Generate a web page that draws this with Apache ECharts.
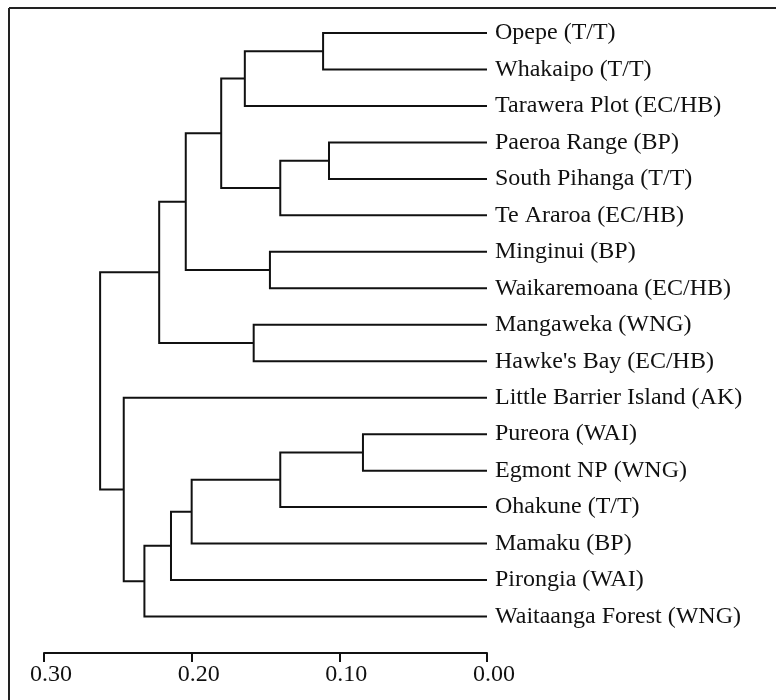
<!DOCTYPE html>
<html>
<head>
    <meta charset="UTF-8"/>
    <title>dendrogram</title>
    <script type="text/javascript" src="https://cdn.jsdelivr.net/npm/echarts@6/dist/echarts.min.js"></script>
    <style>
        html, body { margin: 0; padding: 0; background: #fff; }
        #chart { width: 776px; height: 700px; }
    </style>
</head>
<body>
<div id="chart"></div>
<script>
    // leaf order, top to bottom
    var leaves = [
        'Opepe (T/T)', 'Whakaipo (T/T)', 'Tarawera Plot (EC/HB)', 'Paeroa Range (BP)',
        'South Pihanga (T/T)', 'Te Araroa (EC/HB)', 'Minginui (BP)', 'Waikaremoana (EC/HB)',
        'Mangaweka (WNG)', "Hawke's Bay (EC/HB)", 'Little Barrier Island (AK)', 'Pureora (WAI)',
        'Egmont NP (WNG)', 'Ohakune (T/T)', 'Mamaku (BP)', 'Pirongia (WAI)', 'Waitaanga Forest (WNG)'
    ];
    // merges: clusters 17.. are made in this order (child a, child b)
    var mergeA = [11, 3, 0, 18, 17, 6, 8, 19, 24, 21, 25, 26, 27, 28, 10, 29];
    var mergeB = [12, 4, 1, 5, 13, 7, 9, 2, 20, 14, 22, 15, 23, 16, 30, 31];
    var mergeHeight = [0.084, 0.107, 0.111, 0.140, 0.140, 0.147, 0.158, 0.164,
        0.180, 0.200, 0.204, 0.214, 0.222, 0.232, 0.246, 0.262];
    var axisTicks = [0.30, 0.20, 0.10, 0.00];

    // node position: x = height, y = midpoint of its children
    var nodeX = [], nodeY = [];
    for (var i = 0; i < leaves.length; i++) { nodeX.push(0); nodeY.push(i); }
    var segData = [];
    for (var j = 0; j < mergeA.length; j++) {
        var a = mergeA[j], b = mergeB[j], h = mergeHeight[j];
        segData.push([h, nodeX[a], nodeY[a], nodeX[b], nodeY[b]]);
        nodeX.push(h);
        nodeY.push((nodeY[a] + nodeY[b]) / 2);
    }

    var font = "'Liberation Serif', 'Times New Roman', serif";
    var chart = echarts.init(document.getElementById('chart'));
    chart.setOption({
        backgroundColor: '#fff',
        animation: false,
        grid: { left: 44, right: 289, top: 33, bottom: 47 },
        xAxis: {
            type: 'value',
            inverse: true,
            min: 0, max: 0.3, interval: 0.1,
            splitLine: { show: false },
            axisLine: { show: true, onZero: false, lineStyle: { color: '#111', width: 2 } },
            axisTick: { show: true, length: 9, lineStyle: { color: '#111', width: 2 } },
            axisLabel: {
                margin: 10,
                color: '#111',
                fontFamily: font,
                fontSize: 24,
                padding: [0, 0, 0, 14],
                formatter: function (v) {
                    for (var k = 0; k < axisTicks.length; k++) {
                        if (Math.abs(axisTicks[k] - v) < 1e-9) return axisTicks[k].toFixed(2);
                    }
                    return '';
                }
            }
        },
        yAxis: {
            type: 'value',
            inverse: true,
            position: 'right',
            min: 0, max: 17, interval: 1,
            splitLine: { show: false },
            axisLine: { show: false },
            axisTick: { show: false },
            axisLabel: {
                margin: 8,
                color: '#111',
                fontFamily: font,
                fontSize: 24,
                formatter: function (v) { return leaves[v] || ''; }
            }
        },
        graphic: [
            { type: 'line', shape: { x1: 9, y1: 8, x2: 776, y2: 8 }, style: { stroke: '#222', lineWidth: 2 } },
            { type: 'line', shape: { x1: 9, y1: 8, x2: 9, y2: 700 }, style: { stroke: '#222', lineWidth: 2 } }
        ],
        series: [{
            type: 'custom',
            data: segData,
            encode: { x: 0, y: 2 },
            renderItem: function (params, api) {
                var h = api.value(0);
                var pA1 = api.coord([api.value(1), api.value(2)]);
                var pA2 = api.coord([h, api.value(2)]);
                var pB2 = api.coord([h, api.value(4)]);
                var pB1 = api.coord([api.value(3), api.value(4)]);
                return {
                    type: 'polyline',
                    shape: { points: [pA1, pA2, pB2, pB1] },
                    style: { stroke: '#111', lineWidth: 2, fill: null }
                };
            }
        }]
    });
</script>
</body>
</html>
